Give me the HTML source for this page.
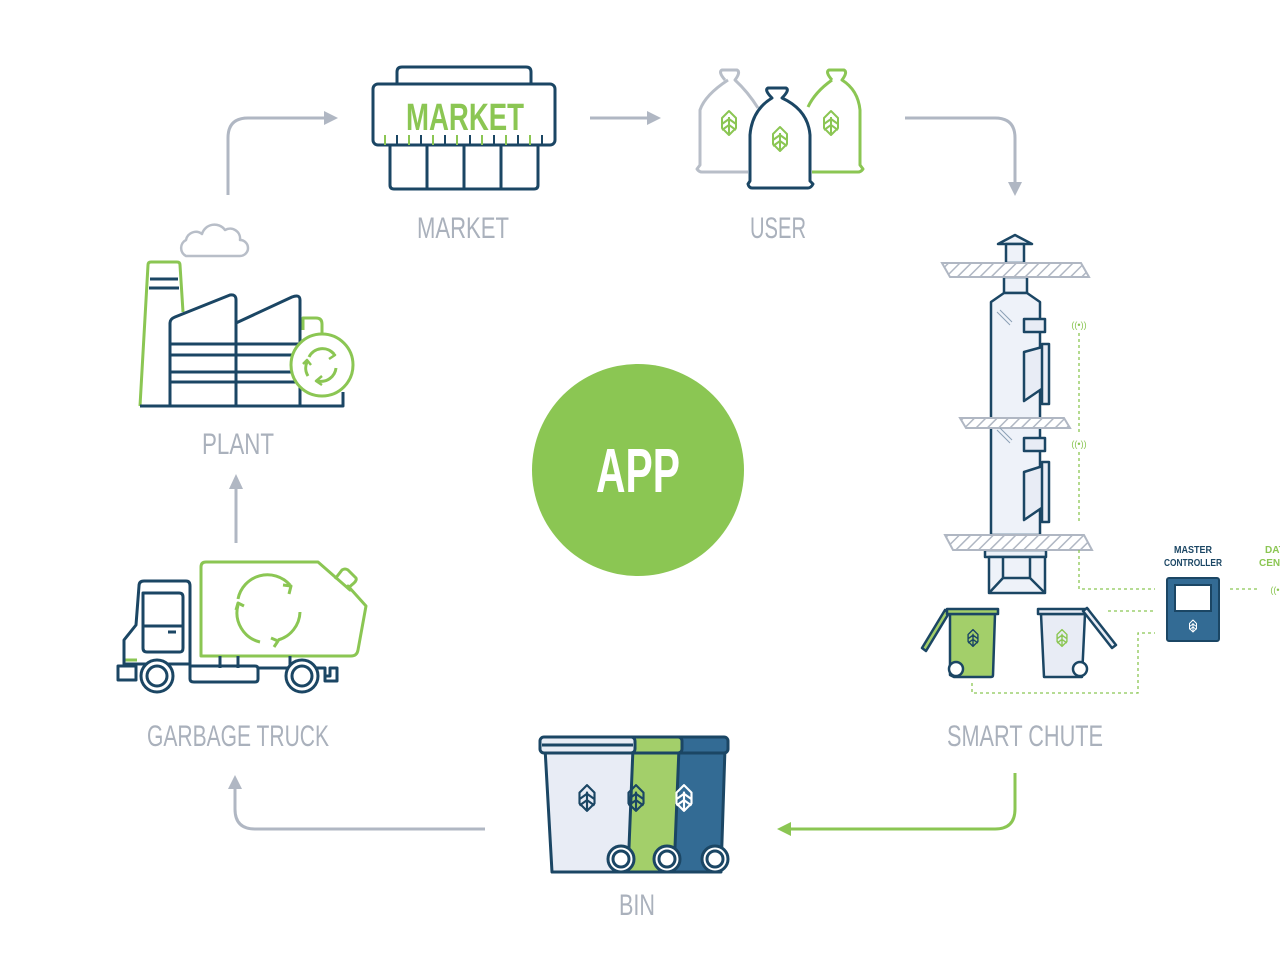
<!DOCTYPE html>
<html><head><meta charset="utf-8"><style>
html,body{margin:0;padding:0;background:#fff;width:1280px;height:960px;overflow:hidden}
svg{display:block}
.lbl{font-family:"Liberation Sans",sans-serif;font-size:30px;fill:#aab1bc}
</style></head><body>
<svg width="1280" height="960" viewBox="0 0 1280 960" xmlns="http://www.w3.org/2000/svg">
<defs>
<symbol id="leaf" viewBox="-10 -14 20 28" overflow="visible">
<path d="M0,-12 L7,-5 L7,5 L0,12 L-7,5 L-7,-5 Z M0,-6 V12 M-7,1 L0,-4 L7,1 M-7,7 L0,2 L7,7" fill="none" stroke-width="2" stroke-linejoin="round"/>
</symbol>
<pattern id="hatch" width="8" height="8" patternUnits="userSpaceOnUse" patternTransform="rotate(45)">
<rect width="8" height="8" fill="#fff"/><line x1="0" y1="0" x2="0" y2="8" stroke="#b0b7c3" stroke-width="3"/>
</pattern>
</defs>

<g fill="none" stroke="#b0b7c3" stroke-width="3">
<path d="M228,195 V138 Q228,118 248,118 H325"/>
<path d="M590,118 H648"/>
<path d="M905,118 H995 Q1015,118 1015,138 V183"/>
<path d="M485,829 H255 Q235,829 235,809 V788"/>
<path d="M236,543 V488"/>
</g>
<g fill="#b0b7c3">
<path d="M324,111 L338,118 L324,125Z"/>
<path d="M647,111 L661,118 L647,125Z"/>
<path d="M1008,182 L1015,196 L1022,182Z"/>
<path d="M228,789 L235,775 L242,789Z"/>
<path d="M229,489 L236,474 L243,489Z"/>
</g>
<path d="M1015,773 V809 Q1015,829 995,829 H790" fill="none" stroke="#8bc653" stroke-width="3"/>
<path d="M791,822 L777,829 L791,836Z" fill="#8bc653"/>

<circle cx="638" cy="470" r="106" fill="#8bc653"/>
<text x="638" y="492" text-anchor="middle" font-family="Liberation Sans,sans-serif" font-weight="bold" font-size="62" fill="#fff" textLength="84" lengthAdjust="spacingAndGlyphs">APP</text>

<text class="lbl" x="463" y="238" text-anchor="middle" textLength="92" lengthAdjust="spacingAndGlyphs">MARKET</text>
<text class="lbl" x="778" y="238" text-anchor="middle" textLength="56" lengthAdjust="spacingAndGlyphs">USER</text>
<text class="lbl" x="238" y="454" text-anchor="middle" textLength="72" lengthAdjust="spacingAndGlyphs">PLANT</text>
<text class="lbl" x="238" y="746" text-anchor="middle" textLength="182" lengthAdjust="spacingAndGlyphs">GARBAGE TRUCK</text>
<text class="lbl" x="1025" y="746" text-anchor="middle" textLength="156" lengthAdjust="spacingAndGlyphs">SMART CHUTE</text>
<text class="lbl" x="637" y="915" text-anchor="middle" textLength="36" lengthAdjust="spacingAndGlyphs">BIN</text>

<g fill="none" stroke="#1b4664" stroke-width="3" stroke-linejoin="round">
<path d="M397,84 V72 Q397,67 402,67 H526 Q531,67 531,72 V84"/>
<rect x="373" y="84" width="182" height="61" rx="5"/>
<path d="M390,145 V185 Q390,189 394,189 H534 Q538,189 538,185 V145 M427,145 V189 M464,145 V189 M501,145 V189"/>
<path d="M397,135 V145 M421,135 V145 M445,135 V145 M470,135 V145 M494,135 V145 M518,135 V145 M542,135 V145" stroke-width="2"/>
<path d="M385,135 V145 M409,135 V145 M433,135 V145 M457,135 V145 M482,135 V145 M506,135 V145 M530,135 V145" stroke="#8bc653" stroke-width="2"/>
</g>
<text x="465" y="130" text-anchor="middle" font-family="Liberation Sans,sans-serif" font-weight="bold" font-size="38" fill="#8bc653" textLength="118" lengthAdjust="spacingAndGlyphs">MARKET</text>

<g fill="none" stroke-width="3" stroke-linejoin="round">
<path d="M725,80 Q718,72 722,70 H737 Q741,72 735,80 Q748,92 758,108 M728,80 Q705,95 700,110 V165 L697,169 Q699,172 702,172 H748" stroke="#b8bec8"/>
<path d="M832,80 Q825,72 829,70 H844 Q848,72 842,80 Q858,90 860,110 V165 L863,169 Q861,172 858,172 H812 M832,80 Q815,92 808,107" stroke="#8bc653"/>
<path d="M772,98 Q764,90 768,88 H786 Q790,90 782,98 Q808,110 810,135 V181 L813,184 Q811,188 808,188 H752 Q749,188 748,184 L750,181 V135 Q752,110 772,98 Z" stroke="#1b4664" fill="#fff"/>
</g>
<use href="#leaf" x="719" y="109" width="20" height="28" stroke="#8bc653"/>
<use href="#leaf" x="770" y="125" width="20" height="28" stroke="#8bc653"/>
<use href="#leaf" x="821" y="109" width="20" height="28" stroke="#8bc653"/>

<g stroke="#1b4664" stroke-width="2.5" stroke-linejoin="round" fill="#eef2f9">
<path d="M998,244 L1015,235 L1032,244 Z"/>
<rect x="1006" y="244" width="18" height="19"/>
<rect x="1004" y="277" width="23" height="16"/>
<path d="M991,302 L1004,293 H1027 L1040,302 V535 H991 Z"/>
<rect x="1024" y="319" width="21" height="13" fill="#e8ecf5"/>
<path d="M1024,352 L1046,346 V386 L1024,401 Z" fill="#e8ecf5"/>
<rect x="1042" y="344" width="7" height="60" fill="#e8ecf5"/>
<rect x="1024" y="438" width="21" height="13" fill="#e8ecf5"/>
<path d="M1024,472 L1046,465 V505 L1024,520 Z" fill="#e8ecf5"/>
<rect x="1042" y="462" width="7" height="60" fill="#e8ecf5"/>
<rect x="985" y="550" width="61" height="7"/>
<path d="M989,557 H1045 V593 H989 Z"/>
<path d="M1003,557 V578 H1030 V557 M1003,578 L989,593 M1030,578 L1045,593" fill="none"/>
</g>
<g stroke="#b0b7c3" stroke-width="2" fill="url(#hatch)">
<path d="M942,263 H1081 L1089,277 H950 Z"/>
<path d="M960,418 H1064 L1070,428 H966 Z"/>
<path d="M945,535 H1084 L1092,550 H953 Z"/>
</g>
<path d="M997,312 L1010,325 M1000,310 L1012,322 M997,430 L1010,443 M1000,428 L1012,440" stroke="#8ca0b5" stroke-width="1"/>
<g stroke="#1b4664" stroke-width="2.5" stroke-linejoin="round">
<path d="M922,648 L945,610 L949,613 L926,651 Z" fill="#a3cf6a"/>
<path d="M950,614 H995 L993,675 Q993,677 991,677 H954 L950,675 Z" fill="#a3cf6a"/>
<rect x="947" y="609" width="51" height="5" fill="#a3cf6a"/>
<circle cx="956" cy="669" r="7" fill="#fff"/>
<path d="M1041,614 H1085 L1082,677 H1044 Z" fill="#e8ecf5"/>
<rect x="1038" y="609" width="50" height="5" fill="#e8ecf5"/>
<path d="M1087,608 L1116,645 L1112,648 L1083,611 Z" fill="#e8ecf5"/>
<circle cx="1080" cy="669" r="7" fill="#fff"/>
</g>
<use href="#leaf" x="966" y="628" width="14" height="20" stroke="#1b4664"/>
<use href="#leaf" x="1055" y="628" width="14" height="20" stroke="#8bc653"/>
<g fill="none" stroke="#8bc653" stroke-width="1.3" stroke-dasharray="3,3">
<path d="M1079,333 V433 M1079,452 V523"/>
<path d="M1079,550 V589 H1155"/>
<path d="M1108,611 H1155"/>
<path d="M972,683 V693 H1138 V633 H1155"/>
<path d="M1230,589 H1257"/>
</g>
<g font-family="Liberation Sans,sans-serif" fill="#8bc653" font-size="9">
<text x="1079" y="328" text-anchor="middle">((•))</text>
<text x="1079" y="447" text-anchor="middle">((•))</text>
<text x="1275" y="593" text-anchor="middle">((•</text>
</g>
<rect x="1167" y="578" width="52" height="63" rx="2" fill="#336b94" stroke="#1b4664" stroke-width="2"/>
<rect x="1175" y="585" width="36" height="26" fill="#fff" stroke="#1b4664" stroke-width="2"/>
<use href="#leaf" x="1188" y="619" width="10" height="14" stroke="#fff"/>
<g font-family="Liberation Sans,sans-serif" font-weight="bold" font-size="10">
<text x="1193" y="553" text-anchor="middle" fill="#1b4664" textLength="38" lengthAdjust="spacingAndGlyphs">MASTER</text>
<text x="1193" y="566" text-anchor="middle" fill="#1b4664" textLength="58" lengthAdjust="spacingAndGlyphs">CONTROLLER</text>
<text x="1265" y="553" fill="#8bc653">DAT</text>
<text x="1259" y="566" fill="#8bc653">CENT</text>
</g>

<g stroke="#1b4664" stroke-width="3" stroke-linejoin="round">
<path d="M676,748 H725 L721,872 H670 Z" fill="#336b94"/>
<rect x="672" y="737" width="56" height="16" rx="4" fill="#336b94"/>
<path d="M630,748 H679 L674,872 H624 Z" fill="#a3cf6a"/>
<rect x="626" y="737" width="56" height="16" rx="4" fill="#a3cf6a"/>
<path d="M545,748 H633 L628,872 H552 Z" fill="#e8ecf5"/>
<rect x="540" y="737" width="95" height="16" rx="4" fill="#e8ecf5"/>
<line x1="542" y1="745" x2="633" y2="745"/>
<circle cx="621" cy="859" r="13" fill="#fff"/><circle cx="621" cy="859" r="8" fill="#fff"/>
<circle cx="667" cy="859" r="13" fill="#fff"/><circle cx="667" cy="859" r="8" fill="#fff"/>
<circle cx="715" cy="859" r="13" fill="#fff"/><circle cx="715" cy="859" r="8" fill="#fff"/>
</g>
<use href="#leaf" x="576" y="783" width="22" height="30" stroke="#1b4664"/>
<use href="#leaf" x="625" y="783" width="22" height="30" stroke="#1b4664"/>
<use href="#leaf" x="673" y="783" width="22" height="30" stroke="#fff"/>

<g fill="none" stroke-width="3" stroke-linejoin="round">
<path d="M140,406 L148,265 Q148,262 151,262 H177 Q180,262 180,265 L183,312" stroke="#8bc653"/>
<path d="M303,330 V318 H316 Q322,318 322,324 V333" stroke="#8bc653"/>
<path d="M150,279 H178 M149,288 H179" stroke="#1b4664"/>
<path d="M140,406 H343 V392 M170,406 V323 Q170,319 175,317 L230,295 Q236,294 236,300 V406 M236,323 L292,297 Q300,294 300,300 V406 M170,344 H300 M170,355 H300 M170,372 H300 M170,382 H300" stroke="#1b4664"/>
<circle cx="322" cy="365" r="31" stroke="#8bc653" fill="#fff"/>
<path d="M309,357 A15,15 0 0 1 334,354 M336,368 A15,15 0 0 1 318,381 M308,376 A15,15 0 0 1 307,362" stroke="#8bc653" stroke-width="3"/>
<path d="M329,350 L335,355 L329,359 M322,376 L316,381 L322,385 M303,364 L307,360 L311,365" stroke="#8bc653" stroke-width="2.5"/>
<path d="M186,256 A9,9 0 0 1 186,240 A10,10 0 0 1 202,234 A13,13 0 0 1 225,230 A10,10 0 0 1 240,240 A8,8 0 0 1 240,256 Z" stroke="#b8bec8" stroke-width="2.5"/>
</g>

<g fill="none" stroke-width="3" stroke-linejoin="round">
<path d="M201,656 V567 Q201,562 206,562 H318 L350,590 L348,586 L366,606 L358,650 Q357,656 351,656 Z" stroke="#8bc653"/>
<path d="M335,579 L342,570 Q345,568 348,570 L356,578 Q357,580 354,583 L347,589" stroke="#8bc653"/>
<path d="M238,599 A30,30 0 0 1 290,585 M300,612 A30,30 0 0 1 278,640 M260,642 A30,30 0 0 1 238,605" stroke="#8bc653"/>
<path d="M283,585 L291,586 L289,594 M271,638 L278,641 L274,647 M236,610 L238,603 L244,606" stroke="#8bc653"/>
<path d="M125,660 H137" stroke="#8bc653"/>
<path d="M124,664 V640 L136,625 L139,586 Q139,581 144,581 H186 Q190,581 190,586 V664 H124 Z M143,593 V648 Q143,652 147,652 H180 Q183,652 183,648 V597 Q183,593 179,593 Z M143,626 H183 M168,632 H176" stroke="#1b4664"/>
<path d="M118,666 H136 V680 H118 Z M190,666 H255 Q258,666 258,669 V679 Q258,682 255,682 H194 Q190,682 190,679 Z M258,668 H325 V676 H330 V668 H337 V681 H325 V676 M220,656 V668 M238,656 V668 M290,656 V668" stroke="#1b4664"/>
</g>
<g stroke="#1b4664" stroke-width="3" fill="#fff">
<circle cx="157" cy="676" r="16"/><circle cx="157" cy="676" r="10"/>
<circle cx="302" cy="676" r="16"/><circle cx="302" cy="676" r="10"/>
</g>
</svg>
</body></html>
